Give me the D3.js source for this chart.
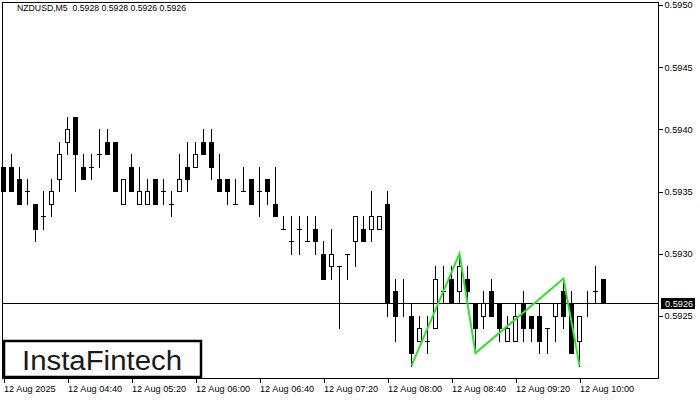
<!DOCTYPE html>
<html>
<head>
<meta charset="utf-8">
<script src="https://cdn.jsdelivr.net/npm/d3@7"></script>
<style>
  html, body { margin: 0; padding: 0; background: #fff; }
  svg { display: block; }
  text { font-family: "Liberation Sans", Arial, sans-serif; }
</style>
</head>
<body>
<svg id="chart" width="700" height="400"></svg>
<script>
// ---- data (NZDUSD, M5) ----
const opens  = [0.5937,0.5937,0.5936,0.5935,0.5934,0.5933,0.5934,0.5936,0.5939,0.5941,
                0.5937,0.5937,0.5938,0.5939,0.5939,0.5934,0.5937,0.5934,0.5934,0.5936,
                0.5935,0.5934,0.5935,0.5937,0.5937,0.5939,0.5939,0.5936,0.5936,0.5934,
                0.5935,0.5936,0.5935,0.5936,0.5934,0.5932,0.5931,0.5932,0.5931,0.5932,
                0.5930,0.5929,0.5929,0.5930,0.5931,0.5932,0.5932,0.5932,0.5934,0.5927,
                0.5926,0.5925,0.5923,0.5923,0.5924,0.5927,0.5928,0.5927,0.5928,0.5926,
                0.5925,0.5927,0.5926,0.5923,0.5923,0.5926,0.5925,0.5925,0.5924,0.5925,
                0.5927,0.5926,0.5923,0.5926,0.5927,0.5928];
const highs  = [0.5937,0.5938,0.5937,0.5936,0.5934,0.5935,0.5936,0.5939,0.5941,0.5941,
                0.5938,0.5938,0.5940,0.5940,0.5939,0.5936,0.5938,0.5937,0.5936,0.5936,
                0.5936,0.5935,0.5938,0.5939,0.5939,0.5940,0.5940,0.5938,0.5936,0.5936,
                0.5937,0.5936,0.5937,0.5936,0.5937,0.5933,0.5933,0.5933,0.5933,0.5933,
                0.5931,0.5932,0.5929,0.5930,0.5933,0.5933,0.5935,0.5933,0.5935,0.5928,
                0.5928,0.5926,0.5925,0.5925,0.5929,0.5929,0.5929,0.5930,0.5929,0.5926,
                0.5927,0.5928,0.5926,0.5925,0.5926,0.5927,0.5925,0.5926,0.5924,0.5926,
                0.5928,0.5927,0.5925,0.5927,0.5929,0.5928];
const lows   = [0.5935,0.5935,0.5934,0.5934,0.5931,0.5932,0.5933,0.5935,0.5938,0.5935,
                0.5936,0.5936,0.5937,0.5938,0.5935,0.5934,0.5935,0.5934,0.5934,0.5934,
                0.5934,0.5933,0.5935,0.5935,0.5937,0.5938,0.5936,0.5935,0.5934,0.5934,
                0.5935,0.5934,0.5933,0.5934,0.5933,0.5932,0.5930,0.5930,0.5931,0.5930,
                0.5928,0.5928,0.5924,0.5928,0.5929,0.5931,0.5931,0.5932,0.5925,0.5923,
                0.5925,0.5921,0.5923,0.5922,0.5924,0.5926,0.5926,0.5926,0.5926,0.5922,
                0.5924,0.5925,0.5923,0.5923,0.5923,0.5923,0.5923,0.5922,0.5922,0.5923,
                0.5924,0.5922,0.5921,0.5925,0.5926,0.5926];
const closes = [0.5935,0.5935,0.5934,0.5935,0.5932,0.5933,0.5935,0.5938,0.5940,0.5938,
                0.5936,0.5937,0.5938,0.5938,0.5935,0.5936,0.5935,0.5935,0.5935,0.5934,
                0.5935,0.5934,0.5936,0.5936,0.5938,0.5938,0.5937,0.5935,0.5935,0.5934,
                0.5935,0.5934,0.5935,0.5935,0.5933,0.5932,0.5931,0.5932,0.5931,0.5931,
                0.5928,0.5930,0.5929,0.5930,0.5933,0.5931,0.5933,0.5933,0.5926,0.5925,
                0.5926,0.5922,0.5924,0.5923,0.5928,0.5927,0.5926,0.5929,0.5927,0.5924,
                0.5926,0.5925,0.5924,0.5924,0.5925,0.5924,0.5924,0.5923,0.5924,0.5926,
                0.5925,0.5922,0.5925,0.5926,0.5927,0.5926];

// time-axis labels (bar index -> label)
const timeTickIdx    = [0, 8, 16, 24, 32, 40, 48, 56, 64, 72];
const timeTickLabels = ["12 Aug 2025","12 Aug 04:40","12 Aug 05:20","12 Aug 06:00","12 Aug 06:40",
                        "12 Aug 07:20","12 Aug 08:00","12 Aug 08:40","12 Aug 09:20","12 Aug 10:00"];
// price-axis ticks
const priceTicks = [0.5925, 0.5930, 0.5935, 0.5940, 0.5945, 0.5950];
const lastPrice = 0.5926;
// triple-bottom pattern line (bar index, price)
const patternIdx   = [51, 57, 59, 70, 72];
const patternPrice = [0.5921, 0.5930, 0.5922, 0.5928, 0.5921];

const headerText = "NZDUSD,M5  0.5928 0.5928 0.5926 0.5926";
const logoText = "InstaFintech";

// ---- drawing ----
(function () {
const svg = d3.select("#chart");
const fLeft = 2.5, fRight = 658.5, fTop = 2.5, fBottom = 378.5;

const x = d3.scaleLinear().domain([0, opens.length - 1]).range([3.5, 3.5 + 8 * (opens.length - 1)]);
const y = d3.scaleLinear().domain([0.5920, 0.5950]).range([378, 5]);
const py = p => Math.round(y(p));

// frame
svg.append("rect").attr("x", fLeft).attr("y", fTop)
  .attr("width", fRight - fLeft).attr("height", fBottom - fTop)
  .attr("fill", "#fff").attr("stroke", "#000").attr("stroke-width", 1);

// header
svg.append("text").attr("x", 17).attr("y", 10.5)
  .attr("font-size", "8.7px").attr("fill", "#000")
  .style("white-space", "pre")
  .text(headerText);

// candles
const candles = d3.range(opens.length).map(i => ({i, o: opens[i], h: highs[i], l: lows[i], c: closes[i]}));
const g = svg.append("g").attr("shape-rendering", "crispEdges");
candles.forEach(d => {
  const cx = x(d.i);
  g.append("line").attr("x1", cx).attr("x2", cx)
    .attr("y1", py(d.h)).attr("y2", py(d.l) + 1)
    .attr("stroke", "#000").attr("stroke-width", 1);
  if (d.o === d.c) {
    g.append("line").attr("x1", cx - 2.5).attr("x2", cx + 2.5)
      .attr("y1", py(d.o) + 0.5).attr("y2", py(d.o) + 0.5)
      .attr("stroke", "#000").attr("stroke-width", 1);
  } else if (d.c < d.o) {
    g.append("rect").attr("x", cx - 2.5).attr("y", py(d.o))
      .attr("width", 5).attr("height", py(d.c) - py(d.o) + 1)
      .attr("fill", "#000");
  } else {
    g.append("rect").attr("x", cx - 2).attr("y", py(d.c) + 0.5)
      .attr("width", 4).attr("height", py(d.o) - py(d.c))
      .attr("fill", "#fff").attr("stroke", "#000").attr("stroke-width", 1);
  }
});

// last price line
svg.append("line").attr("x1", fLeft).attr("x2", fRight)
  .attr("y1", py(lastPrice) + 0.5).attr("y2", py(lastPrice) + 0.5)
  .attr("stroke", "#000").attr("stroke-width", 1).attr("shape-rendering", "crispEdges");

// pattern line
const pattern = patternIdx.map((k, j) => [x(k), y(patternPrice[j])]);
svg.append("path").attr("d", d3.line()(pattern))
  .attr("fill", "none").attr("stroke", "#2fe02f").attr("stroke-width", 2)
  .attr("stroke-linejoin", "miter");

// price axis
const yAxis = d3.axisRight(y).tickValues(priceTicks).tickFormat(d3.format(".4f"))
  .tickSize(4).tickPadding(2);
const ya = svg.append("g").attr("transform", `translate(${fRight},0)`).call(yAxis);
ya.select(".domain").remove();
ya.selectAll("line").attr("stroke", "#000").attr("shape-rendering", "crispEdges");
ya.selectAll("text").attr("font-size", "9.2px").attr("fill", "#000")
  .attr("font-family", "Liberation Sans, Arial, sans-serif");

// last price tag
svg.append("rect").attr("x", 661).attr("y", py(lastPrice) - 5)
  .attr("width", 34).attr("height", 11).attr("fill", "#000");
svg.append("text").attr("x", 665).attr("y", py(lastPrice) + 0.5).attr("dy", "0.35em")
  .attr("font-size", "9.2px").attr("fill", "#fff").text(d3.format(".4f")(lastPrice));

// time axis
const xAxis = d3.axisBottom(x).tickValues(timeTickIdx)
  .tickFormat((d, i) => timeTickLabels[i]).tickSize(5).tickPadding(2);
const xa = svg.append("g").attr("transform", `translate(0,${fBottom - 0.5})`).call(xAxis);
xa.select(".domain").remove();
xa.selectAll("line").attr("stroke", "#000").attr("shape-rendering", "crispEdges");
xa.selectAll("text").attr("text-anchor", "start").attr("x", 0)
  .attr("font-size", "9.2px").attr("fill", "#000")
  .attr("font-family", "Liberation Sans, Arial, sans-serif");

// logo
svg.append("rect").attr("x", 4).attr("y", 341).attr("width", 197).attr("height", 36)
  .attr("fill", "#fff").attr("stroke", "#000").attr("stroke-width", 2.5);
svg.append("text").attr("x", 22).attr("y", 370)
  .attr("font-family", "Inter, Lato, sans-serif").attr("font-weight", 500)
  .attr("font-size", "27px").attr("fill", "#1a1a1a")
  .attr("textLength", 160).attr("lengthAdjust", "spacingAndGlyphs")
  .text(logoText);
})();
</script>
</body>
</html>
